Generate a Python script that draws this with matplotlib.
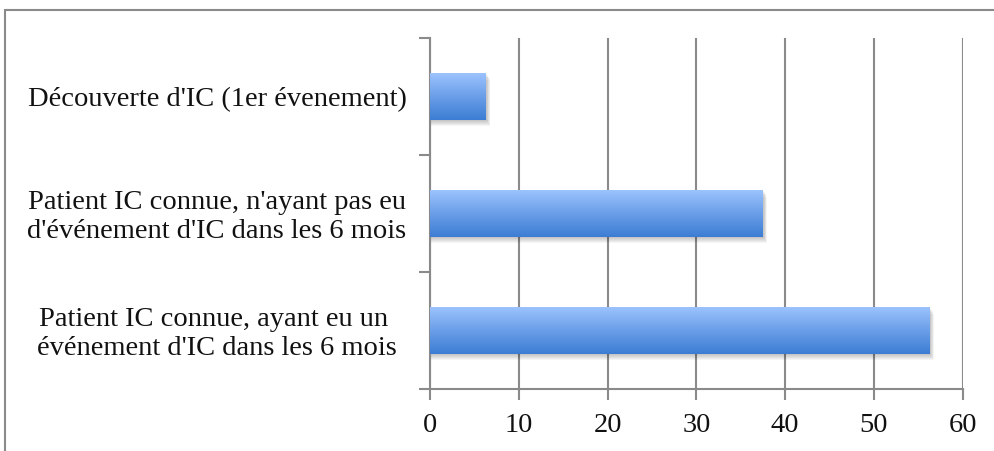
import numpy as np
import matplotlib
matplotlib.use("Agg")
import matplotlib.pyplot as plt
from matplotlib.patches import Rectangle
from matplotlib.colors import LinearSegmentedColormap
import matplotlib.transforms as mtransforms

plt.rcParams['font.family'] = ['Liberation Serif', 'DejaVu Serif']

categories = ["Patient IC connue, ayant eu un \névénement d'IC dans les 6 mois",
              "Patient IC connue, n'ayant pas eu\nd'événement d'IC dans les 6 mois",
              "Découverte d'IC (1er évenement)"]
values = [56.3, 37.5, 6.3]
xticks = [0, 10, 20, 30, 40, 50, 60]

W, H = 994, 451
fig = plt.figure(figsize=(W/100, H/100), dpi=100)
ax = fig.add_axes([430.3/W, 1-389/H, (962.5-430.3)/W, (389-38)/H])

grey = "#8a8a8a"
cmap = LinearSegmentedColormap.from_list("g", ["#3c7dd3", "#6a9ee8", "#9cc3fd"])
ypos = np.arange(len(categories))
bh = 0.40
bars = ax.barh(ypos, values, height=bh, color="none", edgecolor="none", zorder=3)
grad = np.linspace(0, 1, 256).reshape(-1, 1)
for b, v in zip(bars, values):
    y0 = b.get_y()
    for k in range(6):
        ax.add_patch(Rectangle((0.0, y0 - 0.01 - 0.009*k), v + 0.12 + 0.07*k, bh,
                               facecolor="black", alpha=0.04, edgecolor="none", zorder=2))
    im = ax.imshow(grad, cmap=cmap, aspect="auto", origin="lower",
                   extent=[0, v, y0, y0 + bh], zorder=3, interpolation="bilinear")
    im.set_clip_path(b)

ax.set_xlim(0, 60)
ax.set_ylim(-0.5, 2.5)
ax.set_xticks(xticks)
ax.set_xticklabels([str(t) for t in xticks])
ax.set_yticks([-0.5, 0.5, 1.5, 2.5])
ax.set_yticklabels([])
ax.tick_params(axis="y", length=8, width=1.5, color=grey)
ax.tick_params(axis="x", length=8, width=1.5, color=grey, pad=9,
               labelsize=20.5, labelcolor="#111111")
ax.grid(axis="x", color=grey, linewidth=1.5, zorder=0)
ax.set_axisbelow(True)
for s in ["top", "right"]:
    ax.spines[s].set_visible(False)
for s in ["left", "bottom"]:
    ax.spines[s].set_color(grey)
    ax.spines[s].set_linewidth(1.5)

trans = mtransforms.blended_transform_factory(ax.transAxes, ax.transData)
xc = (217 - 430.3) / (962.5 - 430.3)
for y, c in zip(ypos, categories):
    ax.text(xc, y - 0.03, c, transform=trans, ha="center", va="center",
            fontsize=20.5, color="#111111", linespacing=1.2)

fig.patches.append(Rectangle((5/W, -0.1), 1.2, 1 - 10/H + 0.1, transform=fig.transFigure,
                             fill=False, edgecolor=grey, linewidth=1.5))
fig.savefig("out.png", dpi=100)
